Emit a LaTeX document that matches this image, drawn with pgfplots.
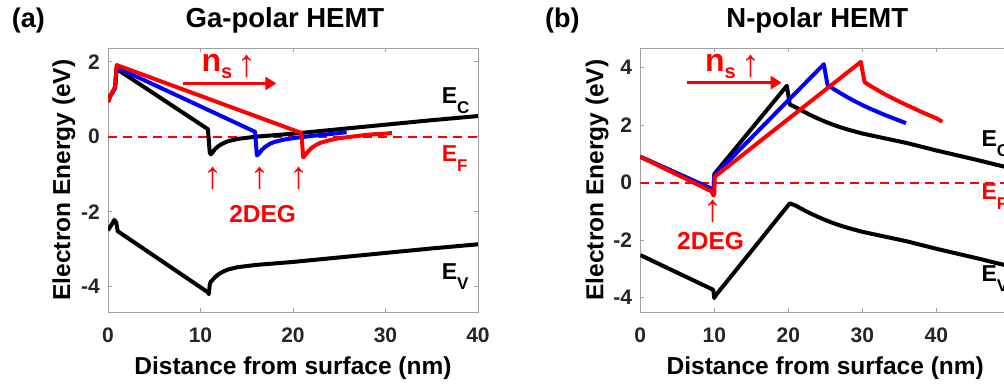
\documentclass[border=0pt]{standalone}
\usepackage{fontspec}
\setmainfont{Liberation Sans}
\usepackage{pgfplots}
\pgfplotsset{compat=1.18}
\usetikzlibrary{arrows.meta}
\newcommand{\tickfont}{\fontsize{21}{21}\selectfont\bfseries}
\newcommand{\labfont}{\fontsize{24.5}{24.5}\selectfont\bfseries}
\newcommand{\Elab}[1]{\fontsize{23}{23}\selectfont\bfseries E\raisebox{-10pt}{\fontsize{17}{17}\selectfont #1}}
\newcommand{\nslab}{\fontsize{32}{32}\selectfont\bfseries n\raisebox{-7pt}{\fontsize{20}{20}\selectfont s}}
\newcommand{\uparr}{\fontsize{38}{38}\selectfont ↑}
\definecolor{axgray}{RGB}{160,160,160}
\pgfplotsset{
  myax/.style={
    scale only axis, width=370pt, height=264pt, anchor=south west,
    clip mode=individual,
    axis line style={axgray, line width=0.8pt},
    tick style={axgray, line width=0.8pt},
    tick align=inside, tick pos=both, major tick length=4pt,
    xticklabel pos=lower, yticklabel pos=left,
    xticklabel style={font=\tickfont, anchor=base, yshift=-31pt, inner sep=0pt, text=black!85},
    yticklabel style={font=\tickfont, anchor=east, xshift=-8pt, inner sep=0pt, text=black!85},
  },
  band/.style={line width=4pt, line join=round},
}
\begin{document}
\begin{tikzpicture}
\useasboundingbox (0,0) rectangle (1004pt,385pt);
\clip (0,0) rectangle (1004pt,385pt);
\node[anchor=base west, inner sep=0pt, font=\fontsize{27}{27}\selectfont\bfseries] at (11.7pt,357.5pt) {(a)};
\node[anchor=base west, inner sep=0pt, font=\fontsize{27}{27}\selectfont\bfseries] at (545pt,357.5pt) {(b)};
% ---------------- panel (a)
\begin{axis}[myax, at={(108pt,73pt)},
  xmin=0, xmax=40, ymin=-4.675, ymax=2.365,
  xtick={0,10,20,30,40}, xticklabels={0,10,20,30,40},
  ytick={-4,-2,0,2}, yticklabels={-4,-2,0,2}]
\addplot[red, line width=2pt, dash pattern=on 9pt off 6pt] coordinates {(0,0) (40,0)};
% Ec black
\addplot[black, band] coordinates {(0,0.93) (0.22,1.07) (0.76,1.3) (0.94,1.82) (1.1,1.78) (10.8,0.2) (10.9,-0.1) (11.0,-0.42) (11.1,-0.47) (11.3,-0.42) (11.6,-0.32) (12,-0.24) (12.5,-0.17) (13,-0.12) (14,-0.06) (15,-0.03) (16,0.0) (18,0.04) (20,0.08) (25,0.2) (30,0.32) (35,0.44) (40,0.55)};
% Ev black
\addplot[black, band] coordinates {(0,-2.5) (0.3,-2.38) (0.7,-2.22) (0.9,-2.3) (1.05,-2.52) (10.8,-4.15) (10.9,-4.2) (11.0,-3.95) (11.1,-3.87) (11.3,-3.82) (11.6,-3.74) (12,-3.66) (12.5,-3.59) (13,-3.54) (14,-3.48) (15,-3.45) (16,-3.42) (18,-3.38) (20,-3.34) (25,-3.22) (30,-3.1) (35,-2.98) (40,-2.87)};
% blue
\addplot[blue, band] coordinates {(0,0.93) (0.22,1.07) (0.76,1.3) (0.94,1.86) (1.1,1.83) (15.9,0.13) (16.0,-0.2) (16.1,-0.5) (16.3,-0.46) (16.6,-0.36) (17,-0.27) (17.5,-0.19) (18,-0.14) (19,-0.08) (20,-0.04) (21,-0.01) (22,0.02) (24,0.07) (25.8,0.12)};
% red
\addplot[red, band] coordinates {(0,0.93) (0.22,1.07) (0.76,1.33) (0.94,1.91) (20.9,0.1) (21.0,-0.2) (21.1,-0.55) (21.3,-0.5) (21.6,-0.4) (22,-0.3) (22.5,-0.22) (23,-0.16) (24,-0.09) (25,-0.04) (26,-0.01) (27,0.02) (28,0.05) (29,0.07) (30,0.08) (30.7,0.1)};
% annotations
\draw[red, line width=3.5pt, -{Triangle[length=11pt,width=13pt]}] (axis cs:8.1,1.42) -- (axis cs:18.2,1.42);
\node[red, anchor=base west, inner sep=0pt] at (axis cs:10.1,1.73) {\nslab};
\node[red, anchor=south, inner sep=0pt] at (axis cs:15.08,1.56) {\uparr};
\node[red, anchor=south, inner sep=0pt] at (axis cs:11.38,-1.42) {\uparr};
\node[red, anchor=south, inner sep=0pt] at (axis cs:16.43,-1.42) {\uparr};
\node[red, anchor=south, inner sep=0pt] at (axis cs:20.65,-1.42) {\uparr};
\node[red, anchor=base, inner sep=0pt, font=\labfont] at (axis cs:16.72,-2.29) {2DEG};
\node[black, anchor=base west, inner sep=0pt] at (axis cs:36.07,0.89) {\Elab{C}};
\node[red, anchor=base west, inner sep=0pt] at (axis cs:36.07,-0.67) {\Elab{F}};
\node[black, anchor=base west, inner sep=0pt] at (axis cs:36.07,-3.8) {\Elab{V}};
% titles and labels
\node[xshift=-8pt, yshift=20pt, anchor=base, inner sep=0pt, font=\fontsize{27.5}{27.5}\selectfont\bfseries] at (rel axis cs:0.5,1) {Ga-polar HEMT};
\node[yshift=-63pt, anchor=base, inner sep=0pt, font=\labfont] at (rel axis cs:0.5,0) {Distance from surface (nm)};
\node[xshift=-38pt, rotate=90, anchor=base, inner sep=0pt, font=\labfont] at (rel axis cs:0,0.5) {Electron Energy (eV)};
\end{axis}
% ---------------- panel (b)
\begin{axis}[myax, at={(640.3pt,73pt)},
  xmin=0, xmax=50, ymin=-4.5, ymax=4.685,
  xtick={0,10,20,30,40}, xticklabels={0,10,20,30,40},
  ytick={-4,-2,0,2,4}, yticklabels={-4,-2,0,2,4}]
\addplot[red, line width=2pt, dash pattern=on 9pt off 6pt] coordinates {(0,0) (50,0)};
% Ec black
\addplot[black, band] coordinates {(0,0.9) (9.7,-0.22) (9.9,-0.28) (10.0,0.3) (19.8,3.37) (20.2,2.72) (21,2.62) (22,2.48) (23,2.35) (24,2.23) (25,2.12) (26,2.02) (27,1.93) (28,1.85) (29,1.78) (30,1.71) (32,1.6) (34,1.49) (36,1.38) (38,1.25) (40,1.12) (42,1.0) (44,0.88) (46,0.76) (48,0.63) (50,0.51)};
% Ev black
\addplot[black, band] coordinates {(0,-2.52) (9.8,-3.72) (9.9,-3.8) (10.0,-4.02) (10.1,-3.95) (20.2,-0.72) (21,-0.8) (22,-0.94) (23,-1.07) (24,-1.19) (25,-1.3) (26,-1.4) (27,-1.49) (28,-1.57) (29,-1.64) (30,-1.71) (32,-1.82) (34,-1.93) (36,-2.04) (38,-2.17) (40,-2.3) (42,-2.42) (44,-2.54) (46,-2.66) (48,-2.79) (50,-2.91)};
% blue
\addplot[blue, band] coordinates {(0,0.9) (9.7,-0.22) (9.9,-0.28) (10.0,0.25) (24.8,4.12) (25.3,3.4) (26,3.28) (27,3.12) (28,2.97) (29,2.83) (30,2.7) (31,2.58) (32,2.47) (33,2.36) (34,2.26) (35,2.16) (35.9,2.07)};
% red
\addplot[red, band] coordinates {(0,0.9) (9.6,-0.3) (9.9,-0.45) (10.0,-0.4) (10.05,0.2) (29.8,4.2) (30.3,3.5) (31,3.38) (32,3.23) (33,3.08) (34,2.95) (35,2.82) (36,2.7) (37,2.58) (38,2.46) (39,2.35) (40,2.24) (40.8,2.12)};
% annotations
\draw[red, line width=3.5pt, -{Triangle[length=11pt,width=13pt]}] (axis cs:6.27,3.48) -- (axis cs:19.1,3.48);
\node[red, anchor=base west, inner sep=0pt] at (axis cs:8.74,3.86) {\nslab};
\node[red, anchor=south, inner sep=0pt] at (axis cs:14.9,3.64) {\uparr};
\node[red, anchor=south, inner sep=0pt] at (axis cs:9.86,-1.41) {\uparr};
\node[red, anchor=base, inner sep=0pt, font=\labfont] at (axis cs:9.5,-2.32) {2DEG};
\node[black, anchor=base west, inner sep=0pt] at (axis cs:46.1,1.25) {\Elab{C}};
\node[red, anchor=base west, inner sep=0pt] at (axis cs:46.1,-0.6) {\Elab{F}};
\node[black, anchor=base west, inner sep=0pt] at (axis cs:46.1,-3.44) {\Elab{V}};
\node[xshift=-8pt, yshift=20pt, anchor=base, inner sep=0pt, font=\fontsize{27.5}{27.5}\selectfont\bfseries] at (rel axis cs:0.5,1) {N-polar HEMT};
\node[yshift=-63pt, anchor=base, inner sep=0pt, font=\labfont] at (rel axis cs:0.5,0) {Distance from surface (nm)};
\node[xshift=-37pt, rotate=90, anchor=base, inner sep=0pt, font=\labfont] at (rel axis cs:0,0.5) {Electron Energy (eV)};
\end{axis}
\end{tikzpicture}
\end{document}
